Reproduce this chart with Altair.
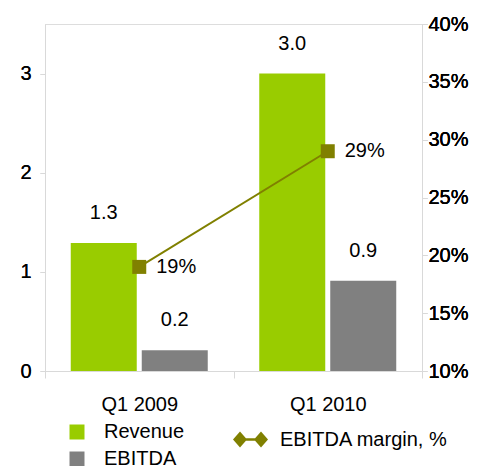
import altair as alt
import pandas as pd

quarters = ["Q1 2009", "Q1 2010"]
series = ["Revenue", "EBITDA"]
revenue = [1.29, 3.0]
ebitda = [0.21, 0.91]
margin = [0.19, 0.29]
left_ticks = [0, 1, 2, 3]
right_ticks = [0.10, 0.15, 0.20, 0.25, 0.30, 0.35, 0.40]
margin_name = "EBITDA margin, %"

bars_df = pd.DataFrame({
    "quarter": quarters * 2,
    "series": [series[0]] * 2 + [series[1]] * 2,
    "value": revenue + ebitda,
})
line_df = pd.DataFrame({"quarter": quarters, "margin": margin, "name": [margin_name] * 2})

FONT = "Liberation Sans"
AX = "#d9d9d9"

x_enc = alt.X("quarter:N", sort=quarters,
              scale=alt.Scale(paddingInner=0, paddingOuter=0),
              axis=alt.Axis(title=None, labelAngle=0, tickBand="extent", tickSize=7,
                            labelPadding=16, labelFontSize=20, labelColor="black",
                            domainColor=AX, tickColor=AX, labelFont=FONT, grid=False))
xo_enc = alt.XOffset("series:N", sort=series,
                     scale=alt.Scale(domain=series, paddingInner=0.0704, paddingOuter=0.3627))
y_left = alt.Y("value:Q", scale=alt.Scale(domain=[0, 3.5], nice=False, zero=True),
               axis=alt.Axis(title=None, orient="left", values=left_ticks, tickSize=5,
                             labelPadding=9, labelFontSize=20, labelColor="black",
                             domainColor=AX, tickColor=AX, labelFont=FONT, grid=False))

bars = alt.Chart(bars_df).mark_bar().encode(
    x=x_enc, xOffset=xo_enc, y=y_left,
    color=alt.Color("series:N", sort=series,
                    scale=alt.Scale(domain=series, range=["#99CC00", "#808080"]),
                    legend=alt.Legend(title=None, orient="none", legendX=22, legendY=398,
                                      direction="vertical", symbolType="square", symbolSize=225,
                                      symbolStrokeWidth=0, labelFontSize=20, labelFont=FONT,
                                      labelColor="black", labelOffset=17, rowPadding=7,
                                      padding=0)),
)
bar_text = alt.Chart(bars_df).mark_text(dy=-30, fontSize=20, font=FONT, color="black").encode(
    x=x_enc, xOffset=xo_enc, y=y_left, text=alt.Text("value:Q", format=".1f"),
)

y_right = alt.Y("margin:Q", scale=alt.Scale(domain=[0.10, 0.40], nice=False, zero=False),
                axis=alt.Axis(title=None, orient="right", values=right_ticks, format=".0%",
                              tickSize=5, labelPadding=1, labelFontSize=20, labelColor="black",
                              domainColor=AX, tickColor=AX, labelFont=FONT, grid=False))

diamond_path = ("M-1,0L-0.6,-0.46L-0.2,0L-0.6,0.46Z "
                "M0.2,0L0.6,-0.46L1,0L0.6,0.46Z "
                "M-0.3,-0.07L0.3,-0.07L0.3,0.07L-0.3,0.07Z")

line = alt.Chart(line_df).mark_line(color="#808000", strokeWidth=2).encode(
    x=x_enc, y=y_right,
)
points = alt.Chart(line_df).mark_point(shape="square", filled=True, size=196, opacity=1).encode(
    x=x_enc, y=y_right,
    color=alt.Color("name:N", scale=alt.Scale(domain=[margin_name], range=["#808000"]),
                    legend=alt.Legend(title=None, orient="none", legendX=188, legendY=398,
                                      symbolType=diamond_path, symbolSize=1225,
                                      symbolStrokeWidth=0, labelFontSize=20, labelFont=FONT,
                                      labelColor="black", labelOffset=12, labelLimit=0,
                                      padding=0)),
)
pct_text = alt.Chart(line_df).mark_text(align="left", dx=17, fontSize=20, font=FONT, color="black").encode(
    x=x_enc, y=y_right, text=alt.Text("margin:Q", format=".0%"),
)

chart = alt.layer(bars, bar_text, line, points, pct_text).resolve_scale(
    y="independent", color="independent"
).resolve_axis(y="independent").properties(
    width=377, height=347,
    autosize=alt.AutoSizeParams(type="none"),
    padding={"left": 37, "top": 16, "right": 50, "bottom": 95},
).configure_view(stroke=None).configure(font=FONT)

chart.save("out.html", embed_options={"renderer": "svg", "actions": False})
